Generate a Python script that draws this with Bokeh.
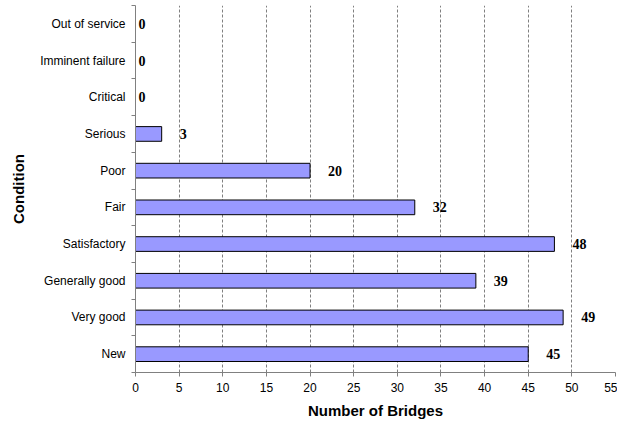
from bokeh.plotting import figure
from bokeh.models import Range1d, FixedTicker, ColumnDataSource
from bokeh.core.properties import value
from bokeh.embed import file_html
from bokeh.resources import INLINE

categories = ["New", "Very good", "Generally good", "Satisfactory", "Fair",
              "Poor", "Serious", "Critical", "Imminent failure", "Out of service"]
counts = [45, 49, 39, 48, 32, 20, 3, 0, 0, 0]
x_ticks = [0, 5, 10, 15, 20, 25, 30, 35, 40, 45, 50, 55]

ypos = [i + 0.5 for i in range(len(categories))]

p = figure(width=617, height=427, output_backend="svg", toolbar_location=None,
           x_range=Range1d(0, 55), y_range=Range1d(0, len(categories)),
           min_border_left=135, min_border_right=2, min_border_top=5, min_border_bottom=55)
p.outline_line_color = None
p.background_fill_color = "white"
p.border_fill_color = "white"

nz = [i for i, c in enumerate(counts) if c > 0]
z = [i for i, c in enumerate(counts) if c == 0]
bar_src = ColumnDataSource(dict(y=[ypos[i] for i in nz], right=[counts[i] for i in nz]))
p.hbar(y="y", right="right", left=0, height=0.4, source=bar_src,
       fill_color="#9999FF", line_color="#000000", line_width=1)

lab_nz = ColumnDataSource(dict(x=[counts[i] for i in nz], y=[ypos[i] for i in nz],
                               t=[str(counts[i]) for i in nz]))
lab_z = ColumnDataSource(dict(x=[counts[i] for i in z], y=[ypos[i] for i in z],
                              t=[str(counts[i]) for i in z]))
for src, off in ((lab_nz, 18), (lab_z, 3)):
    p.text(x="x", y="y", text="t", source=src, x_offset=off,
           text_align="left", text_baseline="middle",
           text_font=value("Liberation Serif"), text_font_style="bold",
           text_font_size="14px", text_color="#000000")

# x axis
xa = p.xaxis[0]
xa.ticker = FixedTicker(ticks=x_ticks, minor_ticks=[])
xa.axis_label = "Number of Bridges"
xa.axis_label_text_font = "Liberation Sans"
xa.axis_label_text_font_style = "bold"
xa.axis_label_text_font_size = "15px"
xa.axis_label_text_color = "#000000"
xa.axis_label_standoff = 7
xa.major_label_text_font = "Liberation Sans"
xa.major_label_text_font_size = "12px"
xa.major_label_text_color = "#000000"
xa.major_label_standoff = 6
xa.axis_line_color = "#808080"
xa.major_tick_line_color = "#808080"
xa.major_tick_out = 4
xa.major_tick_in = 0

# y axis
ya = p.yaxis[0]
ya.ticker = FixedTicker(ticks=ypos, minor_ticks=list(range(len(categories) + 1)))
ya.major_label_overrides = {y: c for y, c in zip(ypos, categories)}
ya.axis_label = "Condition"
ya.axis_label_text_font = "Liberation Sans"
ya.axis_label_text_font_style = "bold"
ya.axis_label_text_font_size = "15px"
ya.axis_label_text_color = "#000000"
ya.axis_label_standoff = 10
ya.major_label_text_font = "Liberation Sans"
ya.major_label_text_font_size = "12px"
ya.major_label_text_color = "#000000"
ya.major_label_standoff = 6
ya.axis_line_color = "#808080"
ya.major_tick_out = 4
ya.major_tick_in = 0
ya.major_tick_line_color = None
ya.minor_tick_line_color = "#808080"
ya.minor_tick_out = 4
ya.minor_tick_in = 0

p.xgrid.ticker = FixedTicker(ticks=x_ticks[1:])
p.xgrid.grid_line_color = "#808080"
p.xgrid.grid_line_dash = "3 2"
p.ygrid.grid_line_color = None

open("out.html", "w").write(file_html(p, INLINE))
